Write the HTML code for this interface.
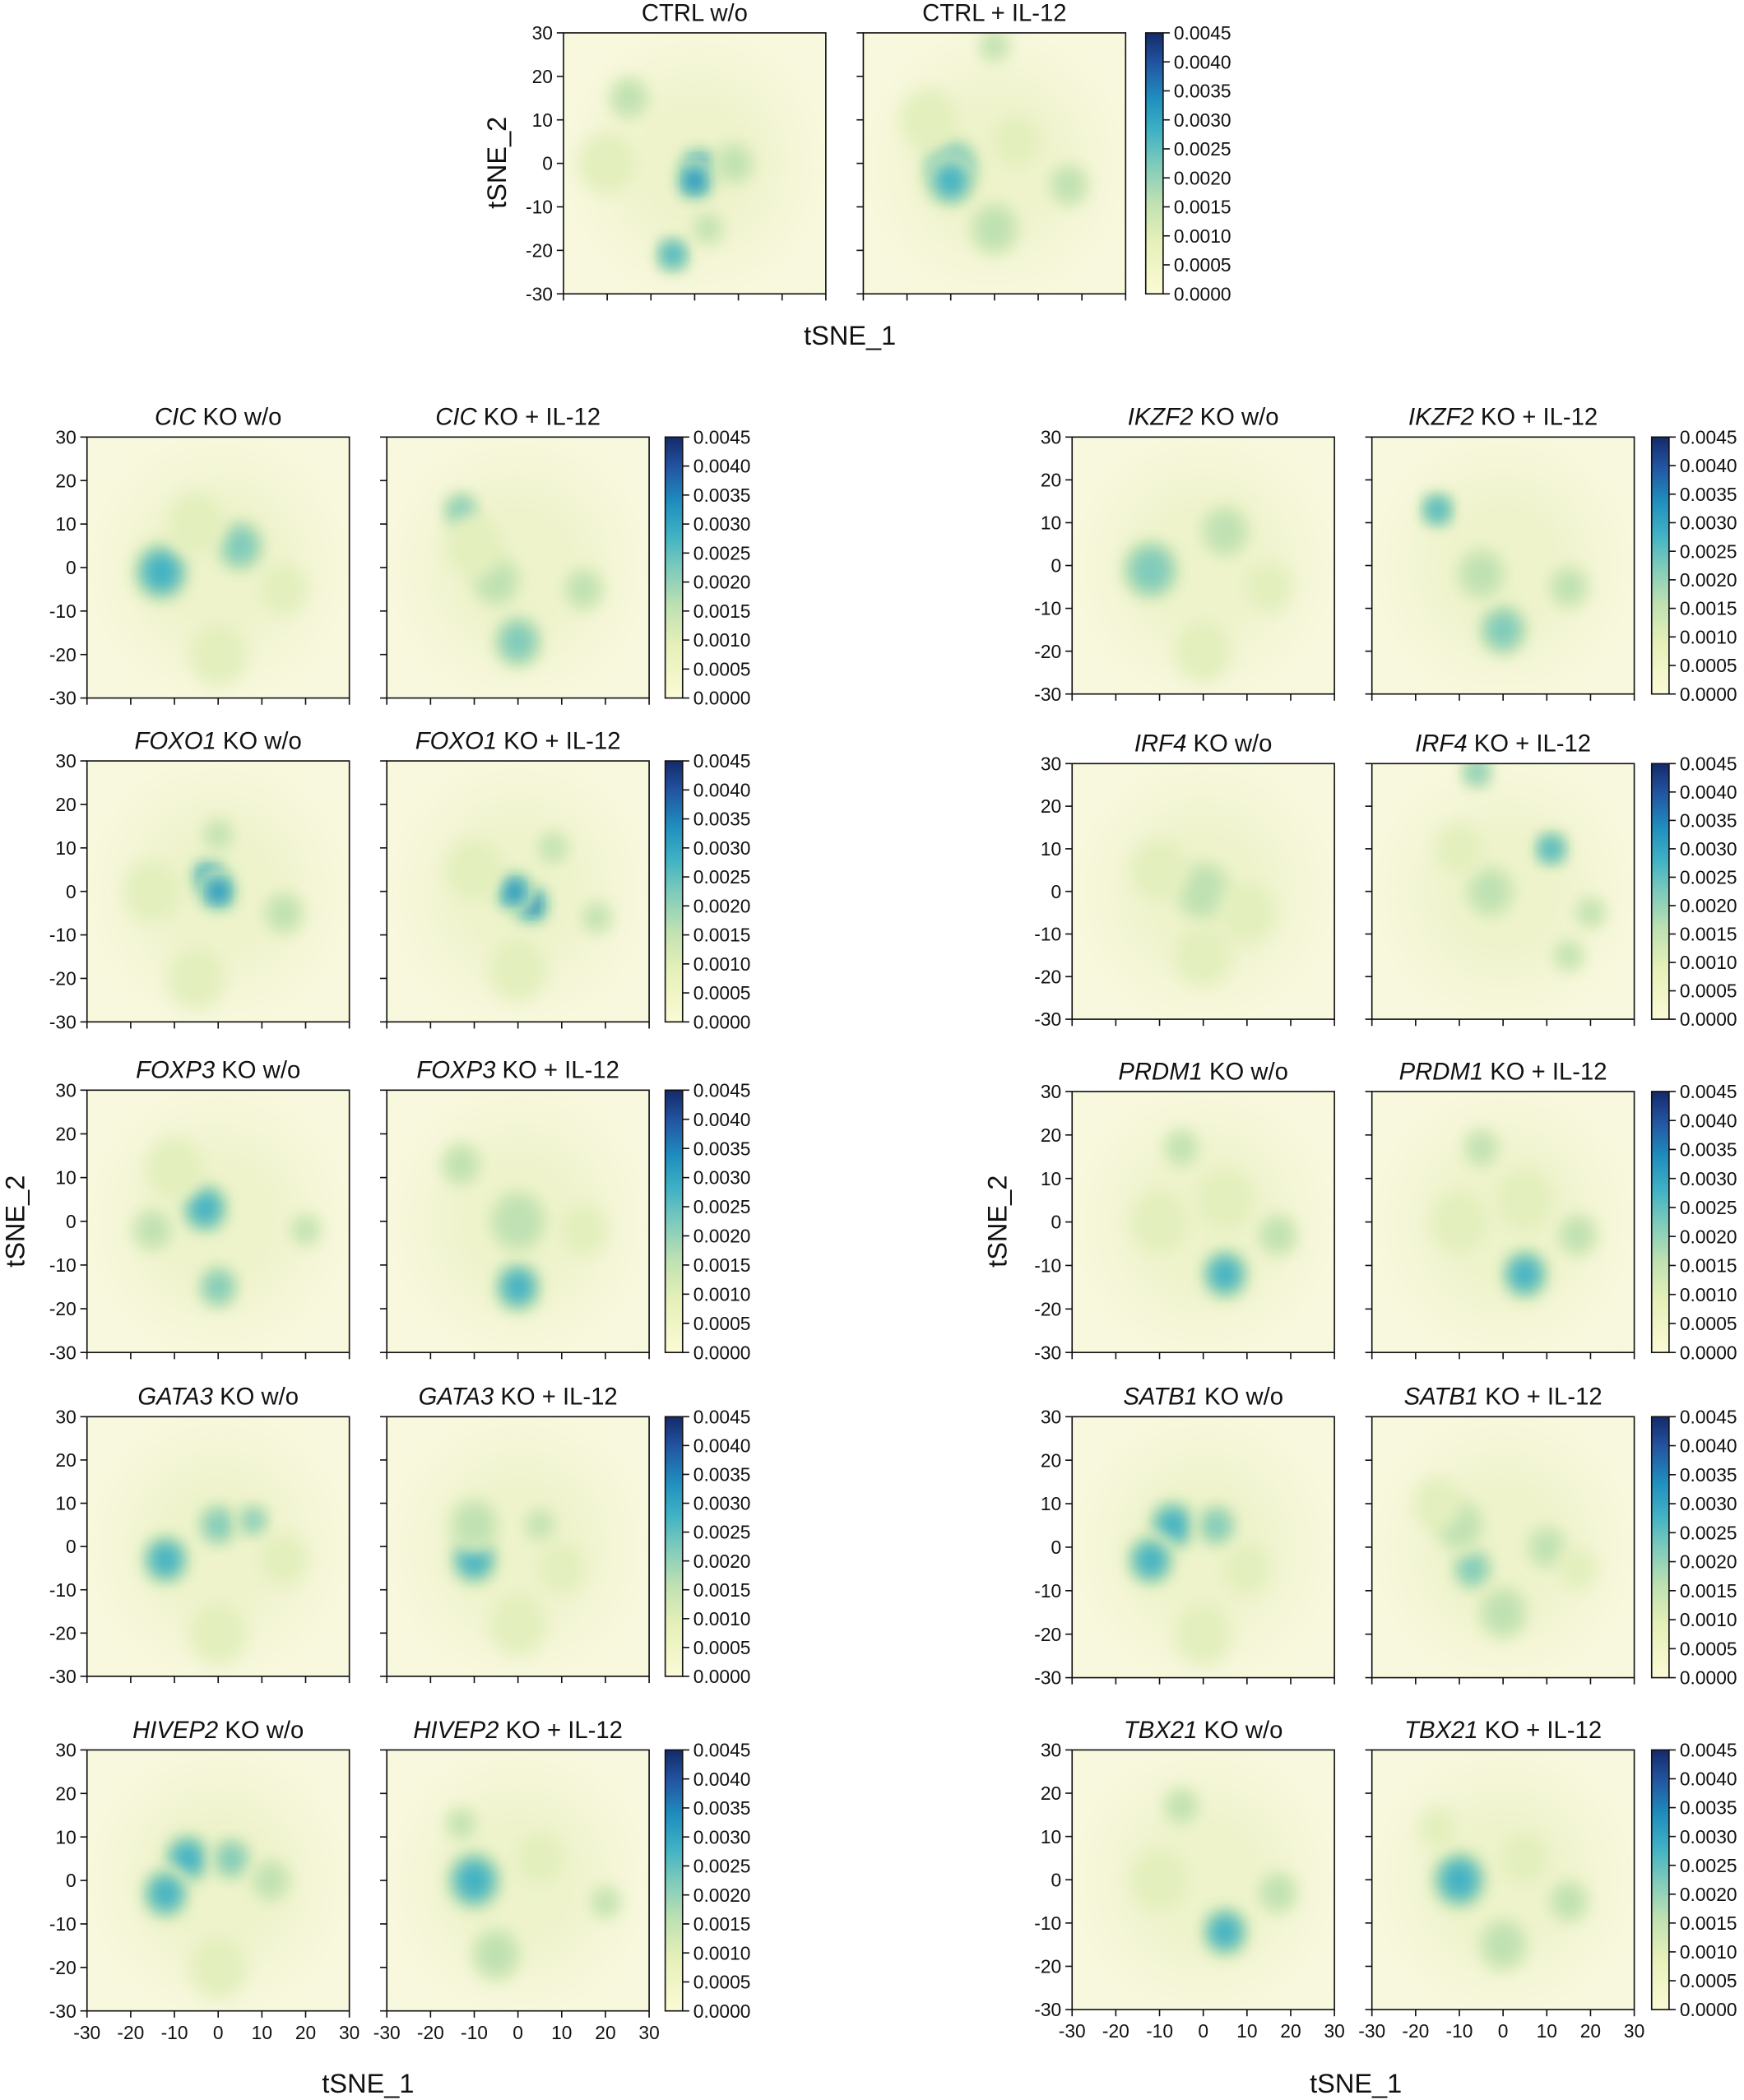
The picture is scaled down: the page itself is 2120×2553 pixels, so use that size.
<!DOCTYPE html>
<html><head><meta charset="utf-8">
<style>
html,body{margin:0;padding:0;background:#fff;}
svg{display:block;}
text{font-family:"Liberation Sans",Arial,sans-serif;fill:#111;}
</style></head>
<body>
<svg id="s" width="2120" height="2553" viewBox="0 0 1303 1568" xmlns="http://www.w3.org/2000/svg">
<defs>
<filter id="b1" x="-50%" y="-50%" width="200%" height="200%"><feGaussianBlur stdDeviation="6"/></filter>
<filter id="b2" x="-50%" y="-50%" width="200%" height="200%"><feGaussianBlur stdDeviation="22"/></filter>
<linearGradient id="cb" x1="0" y1="1" x2="0" y2="0">
<stop offset="0" stop-color="#fbfad6"/>
<stop offset="0.2" stop-color="#e6f0b8"/>
<stop offset="0.35" stop-color="#bfe1b2"/>
<stop offset="0.5" stop-color="#7ccabb"/>
<stop offset="0.62" stop-color="#41b2c4"/>
<stop offset="0.75" stop-color="#1f8ebe"/>
<stop offset="0.88" stop-color="#2356a3"/>
<stop offset="1" stop-color="#142a6a"/>
</linearGradient>
</defs>
<g id="g"></g>
</svg>
<script>
let out="";
const cols=["#e3efbd","#bfe1b3","#7fcbbb","#3fb0c4","#1f85bc","#1d3f8a"];
function panel(x0,y0,w,h,blobs,title,yl,xl,id){
  const sx=w/60, sy=h/60;
  const X=v=>x0+(v+30)*sx, Y=v=>y0+(30-v)*sy;
  out+=`<clipPath id="c${id}"><rect x="${x0}" y="${y0}" width="${w}" height="${h}"/></clipPath>`;
  out+=`<g clip-path="url(#c${id})"><rect x="${x0}" y="${y0}" width="${w}" height="${h}" fill="#f8f8de"/>`;
  out+=`<ellipse cx="${X(0)}" cy="${Y(0)}" rx="${w*0.36}" ry="${h*0.38}" fill="#eef3cb" filter="url(#b2)"/>`;
  for(const b of blobs){
    const [bx,by,I,r]=b; const rr=(r||5);
    for(let k=0;k<=I;k++){
      const f=1.1-k*0.17;
      out+=`<ellipse cx="${X(bx)}" cy="${Y(by)}" rx="${rr*sx*f}" ry="${rr*sy*f*1.1}" fill="${cols[k]}" filter="url(#b1)"/>`;
    }
  }
  out+=`</g><rect x="${x0}" y="${y0}" width="${w}" height="${h}" fill="none" stroke="#111" stroke-width="1"/>`;
  for(let v=-30;v<=30;v+=10){
    out+=`<line x1="${x0-5}" x2="${x0}" y1="${Y(v)}" y2="${Y(v)}" stroke="#111"/>`;
    if(yl) out+=`<text x="${x0-8}" y="${Y(v)+5}" font-size="14" text-anchor="end">${v}</text>`;
    out+=`<line x1="${X(v)}" x2="${X(v)}" y1="${y0+h}" y2="${y0+h+5}" stroke="#111"/>`;
    if(xl) out+=`<text x="${X(v)}" y="${y0+h+21}" font-size="14" text-anchor="middle">${v}</text>`;
  }
  out+=`<text x="${x0+w/2}" y="${y0-9}" font-size="18" text-anchor="middle">${title}</text>`;
}
function cbar(x,y,h){
  out+=`<rect x="${x}" y="${y}" width="13" height="${h}" fill="url(#cb)" stroke="#111"/>`;
  for(let i=0;i<=9;i++){
    const yy=y+h-i*h/9;
    out+=`<line x1="${x+13}" x2="${x+18}" y1="${yy}" y2="${yy}" stroke="#111"/>`;
    out+=`<text x="${x+21}" y="${yy+5}" font-size="14">${(i*0.0005).toFixed(4)}</text>`;
  }
}
const it=(g,s)=>`<tspan font-style="italic">${g}</tspan> KO ${s}`;
let id=0;
panel(421,24,196,195,[[1,-1,5,4],[0,-4,4,4],[-5,-21,3,3.5],[3,-15,1,3],[-15,15,1,4],[9,0,1,4],[-20,0,0,6]],"CTRL w/o",true,false,id++);
panel(645,24,196,195,[[-10,-1,3,6],[-10,-4,3,5],[17,-5,1,4],[0,27,1,3],[0,-15,1,5],[-15,10,0,6],[5,5,0,5]],"CTRL + IL-12",false,false,id++);
cbar(856,24,195);
out+=`<text transform="translate(378,121) rotate(-90)" font-size="20" text-anchor="middle">tSNE_2</text>`;
out+=`<text x="635" y="257" font-size="20" text-anchor="middle">tSNE_1</text>`;
const L=[
 ["CIC",[326,195],[[[-13,-1,3,6],[5,5,2,5],[0,-20,0,6],[-5,10,0,6],[15,-5,0,5]],[[-13,13,2,3.5],[-5,-3,1,5],[0,-17,2,5],[15,-5,1,4],[-10,5,0,6]]]],
 ["FOXO1",[568,195],[[[-2,3,4,4],[0,0,4,4],[0,13,1,3],[15,-5,1,4],[-5,-20,0,6],[-15,0,0,6]],[[3,-3,5,4],[-1,0,4,4],[8,10,1,3],[18,-6,1,3],[-10,5,0,6],[0,-18,0,6]]]],
 ["FOXP3",[814,196],[[[-3,3,3,5],[0,-15,2,4],[-15,-2,1,4],[20,-2,1,3],[-10,12,0,6]],[[0,-15,3,5],[0,0,1,6],[-13,13,1,4],[15,-2,0,5]]]],
 ["GATA3",[1058,194],[[[-12,-3,3,5],[0,5,2,4],[8,6,2,3],[0,-20,0,6],[15,-3,0,5]],[[-10,-3,3,5],[-10,5,1,5],[5,5,1,3],[0,-18,0,6],[10,-5,0,5]]]],
 ["HIVEP2",[1307,195],[[[-7,5,3,5],[-12,-3,3,5],[3,5,2,4],[12,0,1,4],[0,-20,0,6]],[[-10,0,3,6],[-5,-17,1,5],[20,-5,1,3],[-13,13,1,3],[5,5,0,5]]]]
];
const R=[
 ["IKZF2",[326,192],[[[-12,-1,2,6],[5,8,1,5],[0,-20,0,6],[15,-5,0,5]],[[-15,13,3,3.5],[0,-15,2,5],[-5,-2,1,5],[15,-5,1,4]]]],
 ["IRF4",[570,191],[[[0,0,1,6],[-10,5,0,6],[10,-5,0,6],[0,-15,0,6]],[[-6,28,2,3],[11,10,3,3.5],[-3,0,1,5],[20,-5,1,3],[15,-15,1,3],[-10,10,0,5]]]],
 ["PRDM1",[815,195],[[[-5,17,1,3.5],[5,-12,3,5],[17,-3,1,4],[-10,0,0,6],[5,5,0,6]],[[-5,17,1,3.5],[5,-12,3,5],[17,-3,1,4],[-10,0,0,6],[5,5,0,6]]]],
 ["SATB1",[1058,195],[[[-7,5,3,5],[-12,-3,3,5],[3,5,2,4],[0,-20,0,6],[10,-5,0,5]],[[-7,-5,2,4],[-10,5,1,5],[10,0,1,4],[-15,10,0,5],[0,-15,1,5],[17,-5,0,4]]]],
 ["TBX21",[1307,194],[[[-5,17,1,3.5],[5,-12,3,5],[17,-3,1,4],[-10,0,0,6]],[[-10,0,3,6],[0,-15,1,5],[15,-5,1,4],[-15,12,0,4],[5,5,0,5]]]]
];
L.forEach((r,i)=>{const [y,h]=r[1];const last=i==4;
 panel(65,y,196,h,r[2][0],it(r[0],"w/o"),true,last,id++);
 panel(289,y,196,h,r[2][1],it(r[0],"+ IL-12"),false,last,id++);
 cbar(497,y,h);});
R.forEach((r,i)=>{const [y,h]=r[1];const last=i==4;
 panel(801,y,196,h,r[2][0],it(r[0],"w/o"),true,last,id++);
 panel(1025,y,196,h,r[2][1],it(r[0],"+ IL-12"),false,last,id++);
 cbar(1234,y,h);});
out+=`<text transform="translate(18,912) rotate(-90)" font-size="20" text-anchor="middle">tSNE_2</text>`;
out+=`<text transform="translate(752,912) rotate(-90)" font-size="20" text-anchor="middle">tSNE_2</text>`;
out+=`<text x="275" y="1563" font-size="20" text-anchor="middle">tSNE_1</text>`;
out+=`<text x="1013" y="1563" font-size="20" text-anchor="middle">tSNE_1</text>`;
document.getElementById("g").innerHTML=out;
</script>
</body></html>
